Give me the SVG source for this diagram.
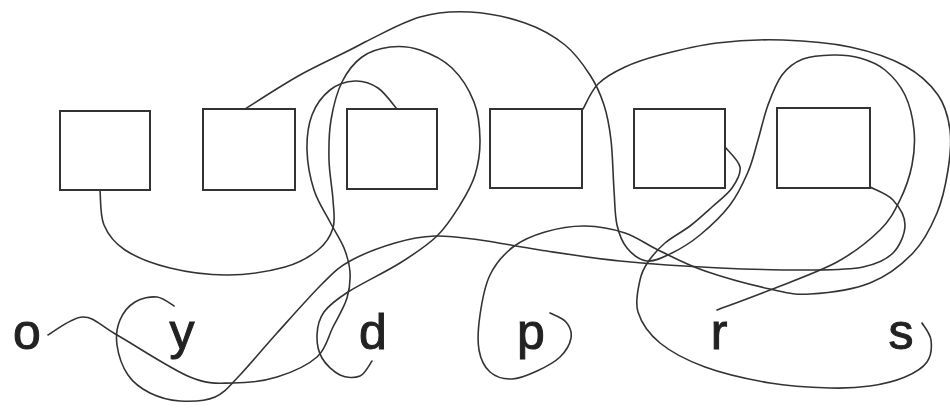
<svg xmlns="http://www.w3.org/2000/svg" width="950" height="408" viewBox="0 0 950 408">
<style>
.box{fill:none;stroke:#333;stroke-width:2}
.c{fill:none;stroke:#333;stroke-width:1.6;stroke-linecap:round;stroke-linejoin:round}
.lbl{font-family:"Liberation Sans",Arial,sans-serif;font-size:50px;fill:#222;stroke:#222;stroke-width:1;text-anchor:middle}
</style>
<rect width="950" height="408" fill="#fff"/>
<g id="box1"><rect class="box" x="60" y="111" width="90" height="79"/></g>
<g id="box2"><rect class="box" x="203" y="109" width="92" height="81"/></g>
<g id="box3"><rect class="box" x="347" y="109" width="90" height="80"/></g>
<g id="box4"><rect class="box" x="490" y="109" width="92" height="79"/></g>
<g id="box5"><rect class="box" x="634" y="109" width="91" height="79"/></g>
<g id="box6"><rect class="box" x="777" y="108" width="93" height="80"/></g>
<g id="label-o"><text class="lbl" x="27" y="349">o</text></g>
<g id="label-y"><text class="lbl" x="182" y="349">y</text></g>
<g id="label-d"><text class="lbl" x="373" y="349">d</text></g>
<g id="label-p"><text class="lbl" x="531" y="349">p</text></g>
<g id="label-r"><text class="lbl" x="719" y="349">r</text></g>
<g id="label-s"><text class="lbl" x="901" y="349">s</text></g>
<g id="connectors">
<path id="c-o" class="c" d="M48,335 C53.8,332 71.5,317 83,317 C94.5,317 99.2,325 117,335 C134.8,345 170.7,369 190,377 C209.3,385 218.5,383 233,383 C247.5,383 263,381.3 277,377 C291,372.7 307.7,365.3 317,357 C326.3,348.7 328,336.8 333,327 C338,317.2 344.2,307.2 347,298 C349.8,288.8 350.5,280.3 350,272 C349.5,263.7 347.3,256.3 344,248 C340.7,239.7 335,231.7 330,222 C325,212.3 317.8,202 314,190 C310.2,178 307.3,162.5 307,150 C306.7,137.5 308.2,125 312,115 C315.8,105 322.8,95.7 330,90 C337.2,84.3 347,81.3 355,81 C363,80.7 371,83.3 378,88 C385,92.7 393.8,105.5 397,109"/>
<path id="c-y" class="c" d="M174,306 C171.2,304.5 163.5,297.7 157,297 C150.5,296.3 141.2,298.2 135,302 C128.8,305.8 123,312.8 120,320 C117,327.2 115.7,335.8 117,345 C118.3,354.2 122.5,367 128,375 C133.5,383 141.3,388.7 150,393 C158.7,397.3 169.2,400.3 180,401 C190.8,401.7 205,401.3 215,397 C225,392.7 229.7,385.7 240,375 C250.3,364.3 263.2,348.3 277,333 C290.8,317.7 310.8,295 323,283 C335.2,271 338,267.7 350,261 C362,254.3 380.8,247.2 395,243 C409.2,238.8 420.8,236.5 435,236 C449.2,235.5 462.5,237.7 480,240 C497.5,242.3 516.7,246.5 540,250 C563.3,253.5 590,258 620,261 C650,264 687.8,266.5 720,268 C752.2,269.5 789.2,270.2 813,270 C836.8,269.8 849.7,269.8 863,267 C876.3,264.2 886,260 893,253 C900,246 905,233.8 905,225 C905,216.2 898.8,206.3 893,200 C887.2,193.7 873.8,189.2 870,187"/>
<path id="c-d" class="c" d="M372,361 C370,363.5 365.3,373.7 360,376 C354.7,378.3 346.3,378 340,375 C333.7,372 325.8,364.7 322,358 C318.2,351.3 316.7,342.7 317,335 C317.3,327.3 318.8,319.2 324,312 C329.2,304.8 335.3,300.2 348,292 C360.7,283.8 385.2,272.3 400,263 C414.8,253.7 427,245.7 437,236 C447,226.3 453.7,215.2 460,205 C466.3,194.8 471.7,185.8 475,175 C478.3,164.2 480.2,152.2 480,140 C479.8,127.8 478.7,114 474,102 C469.3,90 461,76.7 452,68 C443,59.3 430.3,53.5 420,50 C409.7,46.5 399.7,45.8 390,47 C380.3,48.2 370,51.2 362,57 C354,62.8 347.2,71.5 342,82 C336.8,92.5 333.2,107 331,120 C328.8,133 328.7,146.7 329,160 C329.3,173.3 332.3,188.7 333,200 C333.7,211.3 335.5,219.7 333,228 C330.5,236.3 326,243.5 318,250 C310,256.5 300,262.8 285,267 C270,271.2 247.2,274.8 228,275 C208.8,275.2 187.2,272.2 170,268 C152.8,263.8 136,257.2 125,250 C114,242.8 108.2,235 104,225 C99.8,215 100.7,195.8 100,190"/>
<path id="c-p" class="c" d="M550,313 C552.7,314.5 562.5,317.8 566,322 C569.5,326.2 572,332.2 571,338 C570,343.8 565.7,351.5 560,357 C554.3,362.5 545,367.3 537,371 C529,374.7 519.8,378.8 512,379 C504.2,379.2 495.5,376.8 490,372 C484.5,367.2 480.7,359.5 479,350 C477.3,340.5 478.2,327.5 480,315 C481.8,302.5 484.5,286.3 490,275 C495.5,263.7 503.8,254.2 513,247 C522.2,239.8 533,235.5 545,232 C557,228.5 571.7,225.8 585,226 C598.3,226.2 612.5,228.8 625,233 C637.5,237.2 646.7,244.7 660,251 C673.3,257.3 686.7,264.7 705,271 C723.3,277.3 752.5,285.2 770,289 C787.5,292.8 793.3,295 810,294 C826.7,293 852.8,289.8 870,283 C887.2,276.2 901.8,264.7 913,253 C924.2,241.3 931.2,226.8 937,213 C942.8,199.2 945.8,183.8 948,170 C950.2,156.2 951.7,142.5 950,130 C948.3,117.5 945.5,105.7 938,95 C930.5,84.3 919.7,74 905,66 C890.3,58 870.3,51.3 850,47 C829.7,42.7 805.2,40.7 783,40 C760.8,39.3 737.5,40.5 717,43 C696.5,45.5 675.3,51 660,55 C644.7,59 635.3,62.2 625,67 C614.7,71.8 605,77 598,84 C591,91 585.5,104.8 583,109"/>
<path id="c-r" class="c" d="M717,310 C725.8,306.7 750,298 770,290 C790,282 818.7,272 837,262 C855.3,252 869.5,240.3 880,230 C890.5,219.7 894.7,210.8 900,200 C905.3,189.2 909.7,176.7 912,165 C914.3,153.3 915.2,141.7 914,130 C912.8,118.3 909.8,105 905,95 C900.2,85 892.5,76.2 885,70 C877.5,63.8 868.7,60.5 860,58 C851.3,55.5 842.5,54.8 833,55 C823.5,55.2 811.5,55.7 803,59 C794.5,62.3 787.8,67.3 782,75 C776.2,82.7 772,94.2 768,105 C764,115.8 761.3,128.8 758,140 C754.7,151.2 752.7,161.2 748,172 C743.3,182.8 738,194.5 730,205 C722,215.5 709.7,227 700,235 C690.3,243 680.8,248.7 672,253 C663.2,257.3 654.5,261.8 647,261 C639.5,260.2 632,254 627,248 C622,242 619.2,234.7 617,225 C614.8,215.3 615,204.2 614,190 C613,175.8 612.7,154.2 611,140 C609.3,125.8 607.5,115.8 604,105 C600.5,94.2 596.5,85 590,75 C583.5,65 575.8,53.7 565,45 C554.2,36.3 540.8,28.5 525,23 C509.2,17.5 487.5,13 470,12 C452.5,11 437.5,12 420,17 C402.5,22 385,32.3 365,42 C345,53.2 320,63.8 300,75 C280,86.2 254.2,103.3 245,109"/>
<path id="c-s" class="c" d="M922,323 C923.5,325.8 930.2,333.5 931,340 C931.8,346.5 931.3,355.8 927,362 C922.7,368.2 914.5,373 905,377 C895.5,381 882.5,384.2 870,386 C857.5,387.8 846.7,388.5 830,388 C813.3,387.5 790.8,386.5 770,383 C749.2,379.5 723.3,373.7 705,367 C686.7,360.3 671.2,352.2 660,343 C648.8,333.8 641.3,322.5 638,312 C634.7,301.5 638.3,288.3 640,280 C641.7,271.7 643.8,268.2 648,262 C652.2,255.8 658,249 665,243 C672,237 682.2,232 690,226 C697.8,220 705,213.3 712,207 C719,200.7 727.3,194.7 732,188 C736.7,181.3 741.2,173.8 740,167 C738.8,160.2 727.5,150.3 725,147"/>
</g>
</svg>
